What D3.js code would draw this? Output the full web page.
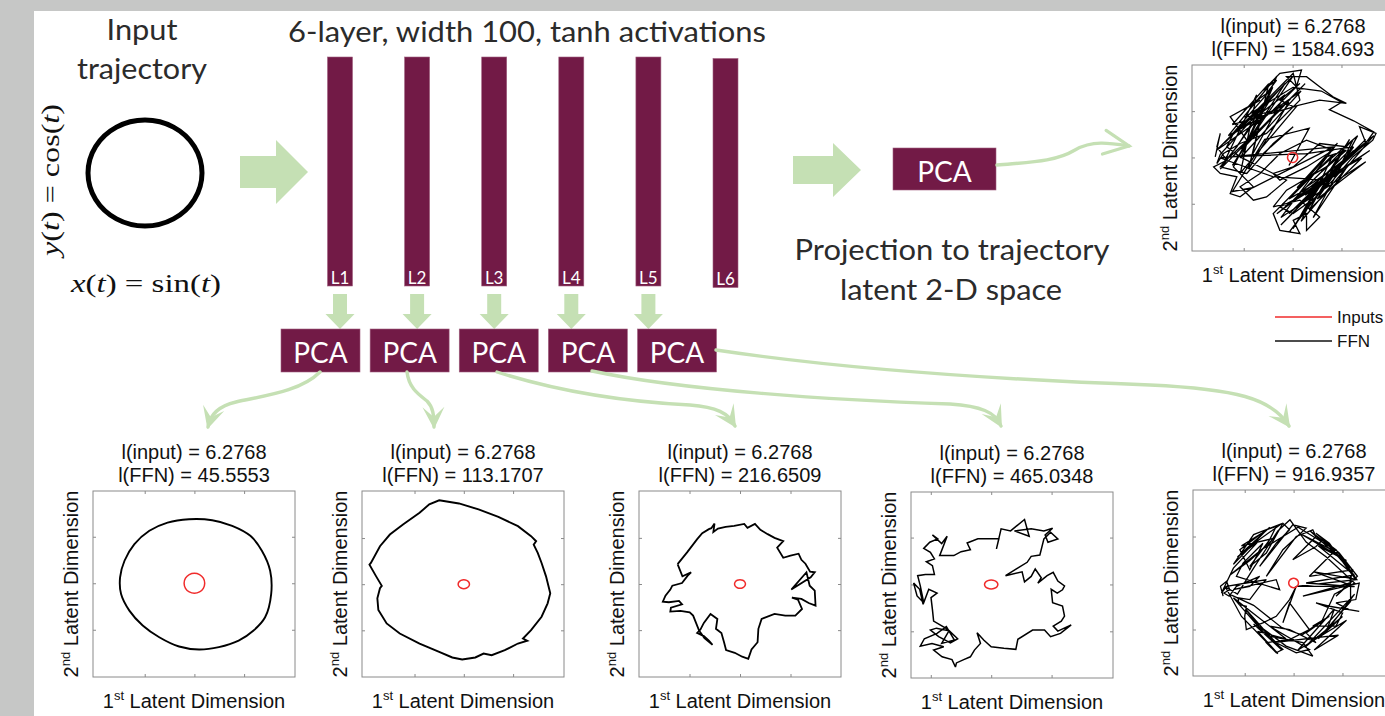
<!DOCTYPE html>
<html>
<head>
<meta charset="utf-8">
<script src="https://cdnjs.cloudflare.com/ajax/libs/d3/7.8.5/d3.min.js"></script>
<style>
  body { margin: 0; background: #c6c7c6; }
  svg { display: block; }
</style>
</head>
<body>
<svg id="fig" width="1385" height="716"></svg>
<script>
// ---- data ---------------------------------------------------------------
const layers = ["L1", "L2", "L3", "L4", "L5", "L6"];
const pcaLayers = ["L1", "L2", "L3", "L4", "L5"];
const inputLength = 6.2768;
const ffnLengths = [45.5553, 113.1707, 216.6509, 465.0348, 916.9357, 1584.693];

// unit input trajectory x = sin(t), y = cos(t), sampled every 30 degrees
const inputCircle = [[0, 1], [0.5, 0.866], [0.866, 0.5], [1, 0], [0.866, -0.5], [0.5, -0.866],
  [0, -1], [-0.5, -0.866], [-0.866, -0.5], [-1, 0], [-0.866, 0.5], [-0.5, 0.866]];

// projected input: centre and extent in each latent plane (L1..L5, L6)
const inputOrigin = [[0.2, 0.4], [0.4, -0.1], [0, 0], [-10.3, 0.3], [-0.2, 0], [-0.2, 0.3]];
const inputRadius = [[5.1, 5.4], [2.8, 2.4], [2.7, 2.3], [3.3, 2.4], [2.4, 2.5], [2.5, 2.7]];
const tickStep = [[24.6, 25], [24.4, 24.8], [25, 24.8], [29.9, 25.2], [24.2, 25], [24.2, 24.9]];

// FFN trajectories projected on the first two latent dimensions
const trajL1 = [[-2.5, 34.8], [9, 34.3], [18.9, 31.3], [27.9, 25.9], [33.6, 17.9], [37.7, 7.1], [38.2, -5.4],
  [35.2, -17.9], [29.5, -25], [22.1, -30.4], [12.3, -33.9], [2.5, -35.2], [-7.4, -33.6], [-17.2, -28.6],
  [-25.4, -22.3], [-32, -14.3], [-36.1, -5.4], [-36.6, 3.6], [-34.4, 12.5], [-29.5, 21.4], [-22.1, 28.6],
  [-13.1, 33]];

const trajL2 = [[-11.8, 45.0], [-2.0, 43.3], [7.7, 40.1], [17.5, 36.1], [27.2, 31.1], [33.7, 25.7], [36.2, 23.0],
  [35.0, 21.2], [37.0, 16.7], [38.9, 11.3], [41.1, 4.1], [43.2, -5.0], [41.9, -10.4], [38.9, -17.6],
  [33.7, -24.8], [29.7, -29.3], [31.8, -30.5], [27.2, -32.0], [20.7, -35.6], [14.2, -38.3], [10.2, -37.4],
  [6.1, -39.5], [-0.4, -40.6], [-5.3, -39.5], [-11.8, -36.5], [-21.5, -32.0], [-31.3, -26.6], [-37.8, -21.2],
  [-41.9, -14.0], [-42.4, -7.7], [-41.1, -2.3], [-40.2, -1.0], [-43.0, 4.1], [-46.3, 10.4], [-45.6, 11.3],
  [-41.1, 20.3], [-36.2, 26.6], [-29.7, 32.0], [-21.5, 38.3], [-16.7, 42.8]];

const trajL3 = [[-30.9, 10.7], [-26.2, 17.0], [-21.2, 24.1], [-18.7, 27.3], [-15.4, 29.5], [-14.2, 30.0],
  [-12.6, 32.5], [-13.2, 28.0], [-10.9, 29.8], [-7.1, 30.7], [-2.9, 31.3], [2.1, 32.3], [3.7, 30.2],
  [7.4, 32.3], [10.1, 29.1], [13.7, 26.8], [17.1, 24.8], [21.4, 23.0], [18.4, 19.5], [21.4, 14.1],
  [25.0, 15.2], [29.0, 16.3], [30.4, 13.0], [32.4, 10.9], [34.7, 6.6], [37.0, 6.3], [35.0, 3.6],
  [25.4, -3.0], [32.9, 6.3], [34.5, -0.9], [37.0, -3.6], [37.4, -11.6], [34.0, -10.2], [30.4, -8.0],
  [25.7, -7.3], [28.7, -8.4], [30.7, -13.4], [27.4, -17.0], [22.4, -17.0], [17.1, -16.1], [10.7, -18.8],
  [9.1, -24.1], [8.7, -31.3], [5.7, -35.2], [4.1, -40.2], [1.1, -39.1], [-2.6, -37.0], [-6.9, -35.5],
  [-7.9, -31.3], [-9.2, -26.3], [-11.9, -24.1], [-11.2, -18.8], [-14.6, -16.1], [-17.9, -20.9],
  [-19.6, -24.5], [-21.2, -26.3], [-17.9, -28.0], [-15.4, -30.5], [-13.6, -32.7], [-17.6, -29.1],
  [-20.2, -25.2], [-23.2, -17.0], [-24.9, -15.2], [-29.5, -14.5], [-34.5, -14.8], [-34.2, -12.7],
  [-28.7, -10.9], [-30.2, -9.1], [-35.2, -9.8], [-38.2, -9.5], [-36.9, -6.3], [-34.5, -3.0], [-33.5, -0.9],
  [-28.7, 0.5], [-25.9, 4.5], [-24.2, 6.3], [-28.5, 4.1], [-30.9, 10.7]];

const trajL4 = [[-28.0, -44.1], [-29.7, -40.1], [-34.6, -38.6], [-38.8, -35.0], [-33.8, -33.2], [-39.6, -31.4],
  [-45.4, -32.9], [-43.4, -28.9], [-37.1, -26.0], [-32.5, -22.4], [-30.5, -26.0], [-28.5, -29.6],
  [-34.8, -31.4], [-31.2, -24.6], [-37.4, -23.2], [-40.4, -24.2], [-36.3, -27.8], [-30.5, -31.1],
  [-26.9, -28.9], [-31.8, -23.9], [-38.8, -19.4], [-39.4, -13.1], [-40.1, -6.8], [-37.1, -4.4],
  [-41.2, -2.3], [-44.0, -10.4], [-45.7, -2.3], [-48.7, 1.0], [-47.0, -5.9], [-43.7, -9.5], [-45.4, -0.5],
  [-46.7, 5.0], [-42.9, 5.7], [-38.4, 5.7], [-39.4, 10.4], [-42.4, 12.5], [-38.4, 14.0], [-40.4, 17.6],
  [-43.7, 19.7], [-40.7, 23.0], [-36.8, 24.8], [-39.4, 26.9], [-34.8, 22.3], [-32.1, 26.2], [-35.8, 15.8],
  [-28.8, 15.8], [-25.2, 17.9], [-20.6, 19.0], [-22.2, 22.6], [-16.9, 24.8], [-10.7, 24.8], [-6.5, 24.8],
  [-7.7, 19.4], [-5.4, 30.2], [-0.7, 29.1], [6.2, 35.2], [8.5, 26.2], [1.2, 29.1], [9.5, 30.2],
  [15.8, 29.1], [20.1, 30.5], [16.4, 26.9], [17.8, 23.0], [22.7, 24.8], [19.1, 28.4], [15.8, 24.8],
  [13.8, 16.1], [9.5, 15.4], [7.5, 12.2], [-3.2, 5.0], [5.0, 7.1], [6.2, 1.7], [9.5, 4.6], [11.5, 8.6],
  [14.5, 3.9], [12.8, 1.0], [17.4, 5.0], [20.4, 6.8], [22.7, 2.1], [26.0, -0.5], [25.0, -2.6],
  [22.4, -4.4], [19.4, -2.3], [20.1, -9.5], [25.0, -11.3], [26.0, -16.7], [24.4, -19.4], [20.4, -22.1],
  [22.7, -24.8], [29.3, -21.4], [24.0, -26.0], [19.1, -27.8], [16.1, -24.2], [10.2, -24.2], [2.9, -29.2],
  [1.9, -34.6], [-4.0, -34.0], [-10.3, -33.2], [-14.0, -29.6], [-17.3, -25.7], [-15.6, -31.4],
  [-18.6, -35.0], [-20.6, -38.6], [-23.9, -40.1], [-27.5, -41.9]];

const trajL5 = [[-35.1, -7.1], [-36.4, -1.8], [-33.4, 0.9], [-31.8, -3.6], [-34.7, -5.4], [-32.1, -7.1],
  [-28.5, -1.8], [-17.0, 3.6], [-21.9, -1.8], [-30.1, -3.6], [-8.8, 1.8], [-7.1, -3.6], [-28.5, 3.6],
  [-25.2, 10.7], [-15.4, 21.4], [-21.9, 7.1], [-26.8, 17.9], [-13.7, 28.6], [-8.8, 30.4], [-12.1, 23.2],
  [-21.9, 8.9], [-13.7, 16.1], [-5.5, 32.1], [-2.2, 28.6], [-8.8, 21.4], [-17.0, 8.9], [-0.6, 31.3],
  [6.0, 29.5], [-5.5, 17.9], [-13.7, 3.6], [1.1, 25.0], [9.3, 28.6], [10.9, 25.0], [-0.6, 12.5],
  [10.9, 19.6], [14.2, 23.2], [20.8, 17.9], [7.6, 3.6], [29.0, 7.1], [27.3, -1.8], [1.1, -1.8],
  [30.6, 1.8], [25.7, 8.9], [17.5, 21.4], [10.9, 26.8], [22.4, 16.1], [31.4, 3.6], [20.8, -7.1],
  [27.3, 0], [4.4, -7.1], [32.3, 0], [30.6, -8.9], [20.8, -10.7], [27.3, -14.3], [32.3, -15.2],
  [17.5, -12.5], [10.9, -10.7], [24.1, -16.1], [20.8, -23.2], [9.3, -23.2], [17.5, -17.9], [6.0, -26.8],
  [10.9, -32.1], [-2.2, -25.0], [-12.1, -23.2], [7.6, -35.7], [1.1, -37.5], [-8.8, -32.1], [-17.0, -23.2],
  [-3.9, -33.9], [9.3, -39.3], [4.4, -32.1], [-12.1, -28.6], [-17.0, -25.0], [-5.5, -35.7], [-8.8, -37.5],
  [-13.7, -32.1], [-2.2, -30.4], [7.6, -25.0], [-2.2, -10.7], [-5.5, -21.4], [1.1, -1.8], [-2.2, -8.9],
  [-8.8, -17.9], [-15.4, -21.4], [-23.6, -25.0], [-24.4, -17.9], [-23.6, -12.5], [-27.2, -11.6],
  [-27.7, -8.0], [-21.9, -8.9], [-17.0, -1.8], [-13.7, 1.8], [-23.6, 0], [-33.4, -1.8], [-35.9, -5.4],
  [-30, 8], [-18, 22], [-28, 14], [-12, 30], [-24, 18], [-6, 32], [-20, 26], [-30, 10], [-14, 28],
  [-26, 20], [-10, 24], [-22, 12], [-32, 4], [-16, 18], [2, 30], [20, 18], [8, 28], [28, 8], [14, 24],
  [30, 4], [12, 20], [26, 12], [4, 26], [22, 16], [31, 2], [10, 6], [30, -2], [6, 0], [28, 4],
  [28, -10], [12, -30], [24, -18], [6, -34], [30, -6], [16, -26], [20, -14], [2, -36], [26, -20],
  [10, -36], [22, -28], [-10, -32], [-20, -22], [-6, -36], [-24, -14], [-14, -28], [-30, -8], [-4, -30],
  [-18, -26], [-8, -38], [-26, -18], [-34, -2], [-28, -6], [-20, 8], [-8, 28], [-2, 34], [6, 22],
  [16, 14], [30, 0], [20, -6], [14, -20], [4, -28], [-6, -24], [-20, -12], [-32, -6]];

const trajL6 = [[-38.5, 0.6], [-36.0, 13.2], [-37.7, 6.0], [-32.8, -1.2], [-39.3, -4.8], [-36.0, -8.3],
  [-27.8, -10.1], [-31.1, -19.1], [-26.2, -20.9], [-19.6, -15.5], [-29.5, -4.8], [-22.9, 9.6], [-31.1, 22.2],
  [-16.3, 31.1], [-24.5, 25.8], [-13.1, 34.7], [-8.1, 41.9], [-14.7, 36.5], [-6.5, 45.5], [4.2, 47.3],
  [1.7, 38.3], [-3.2, 43.7], [6.7, 43.7], [13.2, 38.3], [19.8, 32.9], [26.4, 29.4], [13.2, 31.1],
  [0.1, 27.6], [-6.5, 31.1], [3.4, 40.1], [-9.8, 25.8], [-19.6, 16.8], [-11.4, 31.1], [-22.9, 20.4],
  [-32.8, 9.6], [-16.3, 25.8], [-27.8, 6.0], [-36.0, -4.8], [-22.9, -8.3], [-9.8, 7.8], [0.1, 16.8],
  [-14.7, 2.4], [-31.1, 0.6], [6.7, 2.4], [29.6, 6.0], [16.5, -8.3], [6.7, -15.5], [19.8, -1.2],
  [29.6, 9.6], [23.1, -4.8], [13.2, -15.5], [6.7, -22.7], [16.5, -11.9], [28.0, 0.6], [36.2, 7.8],
  [32.9, 16.8], [41.1, 13.2], [39.5, 9.6], [29.6, 0.6], [19.8, -11.9], [11.6, -20.9], [0.1, -29.9],
  [-6.5, -26.3], [0.1, -22.7], [13.2, -8.3], [26.4, 4.2], [16.5, 0.6], [3.4, -15.5], [-3.2, -22.7],
  [-9.8, -29.9], [-6.5, -38.9], [3.4, -40.7], [0.1, -33.5], [6.7, -29.9], [6.7, -38.9], [13.2, -31.7],
  [3.4, -22.7], [-9.8, -26.3], [-3.2, -17.3], [16.5, -4.8], [26.4, 6.0], [13.2, 7.8], [0.1, -4.8],
  [-9.8, -8.3], [-6.5, -11.9], [6.7, -4.8], [19.8, 4.2], [6.7, 9.6], [-6.5, 2.4], [-16.3, -8.3],
  [-26.2, -15.5], [-19.6, -22.7], [-13.1, -20.9], [-3.2, -11.9], [-26.2, 0.6], [-32.8, 6.0], [-29.5, 13.2],
  [-19.6, 24.0], [-6.5, 38.3], [0.1, 45.5], [3.4, 31.1], [-13.1, 13.2], [-26.2, 7.8], [-34.4, 2.4],
  [-37.7, -3.0], [-36, 2], [-4, 40], [-30, -4], [0, 44], [-34, 8], [-10, 38], [-26, 0], [4, 36],
  [-38, 4], [-14, 30], [-22, -6], [-2, 30], [-32, 12], [-8, 44], [-24, 6], [6, 40], [-36, -6],
  [-16, 24], [-28, 14], [-4, 34], [-20, 2], [-12, 40], [-30, 18], [2, 28], [-26, -8], [-18, 34],
  [-34, -2], [-6, 26], [-24, 22], [0, 38], [14, 36], [24, 30], [18, 26], [30, 20], [40, 14], [36, 8],
  [-2, -30], [30, 4], [-6, -36], [36, 10], [2, -26], [24, -4], [-8, -30], [40, 12], [4, -34], [20, 2],
  [-2, -22], [34, 0], [8, -28], [28, 10], [0, -38], [16, -8], [6, -20], [38, 4], [-4, -26], [26, -6],
  [10, -32], [32, 12], [2, -16], [22, 8], [-6, -32], [36, -2], [12, -22], [30, 6], [-2, -40], [18, -12],
  [-10, -10], [-36, 0], [20, 6], [-20, -16], [-30, -18], [-14, 10], [8, 16], [-2, -4]];

const trajectories = [trajL1, trajL2, trajL3, trajL4, trajL5, trajL6];

// ---- styling ------------------------------------------------------------
const MAROON = "#721a46";
const GREEN = "#c5e0b4";
const TEXT = "#2b2b2b";
const UI_FONT = "Lato, 'Open Sans', sans-serif";
const UI_WEIGHT = 400;
const PLOT_FONT = "'Liberation Sans', Arial, Helvetica, sans-serif";

const svg = d3.select("#fig");

// page background with white slide area
svg.append("rect").attr("width", 1385).attr("height", 716).attr("fill", "#c6c7c6");
svg.append("rect").attr("x", 34).attr("y", 11).attr("width", 1385 - 34).attr("height", 716 - 11).attr("fill", "#ffffff");

// ---- helpers ------------------------------------------------------------
function blockArrowRight(g, x0, x1, xh, cy, shaftHalf, headHalf) {
  const p = d3.path();
  p.moveTo(x0, cy - shaftHalf); p.lineTo(xh, cy - shaftHalf); p.lineTo(xh, cy - headHalf);
  p.lineTo(x1, cy); p.lineTo(xh, cy + headHalf); p.lineTo(xh, cy + shaftHalf);
  p.lineTo(x0, cy + shaftHalf); p.closePath();
  g.append("path").attr("d", p.toString()).attr("fill", GREEN);
}
function blockArrowDown(g, cx, y0, yh, y1, shaftHalf, headHalf) {
  const p = d3.path();
  p.moveTo(cx - shaftHalf, y0); p.lineTo(cx + shaftHalf, y0); p.lineTo(cx + shaftHalf, yh);
  p.lineTo(cx + headHalf, yh); p.lineTo(cx, y1); p.lineTo(cx - headHalf, yh);
  p.lineTo(cx - shaftHalf, yh); p.closePath();
  g.append("path").attr("d", p.toString()).attr("fill", GREEN);
}
function curvedArrow(g, d, head) {
  const path = g.append("path").attr("d", d).attr("fill", "none")
    .attr("stroke", GREEN).attr("stroke-width", 3.4).attr("stroke-linecap", "round");
  const node = path.node();
  const L = node.getTotalLength();
  const p1 = node.getPointAtLength(L);
  const p0 = node.getPointAtLength(L - 8);
  let dx = p1.x - p0.x, dy = p1.y - p0.y;
  const n = Math.hypot(dx, dy); dx /= n; dy /= n;
  const nx = -dy, ny = dx;
  if (head === "open") {
    const len = 25, w = 12;
    const a = [p1.x - dx * len + nx * w, p1.y - dy * len + ny * w];
    const b = [p1.x - dx * len - nx * w, p1.y - dy * len - ny * w];
    g.append("path").attr("d", `M${a[0]},${a[1]}L${p1.x},${p1.y}L${b[0]},${b[1]}`)
      .attr("fill", "none").attr("stroke", GREEN).attr("stroke-width", 3.2)
      .attr("stroke-linejoin", "miter").attr("stroke-linecap", "round");
  } else {
    const len = 22, w = 11;
    const tip = [p1.x + dx * 2, p1.y + dy * 2];
    const b1 = [tip[0] - dx * len + nx * w, tip[1] - dy * len + ny * w];
    const b2 = [tip[0] - dx * len - nx * w, tip[1] - dy * len - ny * w];
    const notch = [tip[0] - dx * len * 0.55, tip[1] - dy * len * 0.55];
    g.append("path").attr("d", `M${tip}L${b1}L${notch}L${b2}Z`).attr("fill", GREEN);
  }
}
function uiText(g, x, y, str, opts = {}) {
  const t = g.append("text").attr("x", x).attr("y", y).attr("text-anchor", opts.anchor || "middle")
    .attr("font-family", UI_FONT).attr("font-weight", opts.weight || UI_WEIGHT)
    .attr("font-size", opts.size || 29).attr("fill", opts.fill || TEXT).text(str);
  if (opts.len) t.attr("textLength", opts.len).attr("lengthAdjust", "spacingAndGlyphs");
  return t;
}

// ---- left: input trajectory -------------------------------------------
const gIn = svg.append("g");
uiText(gIn, 142, 40, "Input", { len: 71 });
uiText(gIn, 142, 79, "trajectory", { len: 130 });

const cx0 = d3.scaleLinear().domain([-1, 1]).range([88, 202]);
const cy0 = d3.scaleLinear().domain([-1, 1]).range([226, 120]);
gIn.append("path").datum(inputCircle)
  .attr("d", d3.line().x(d => cx0(d[0])).y(d => cy0(d[1])).curve(d3.curveCatmullRomClosed))
  .attr("fill", "none").attr("stroke", "#000").attr("stroke-width", 5);

function mathText(g, parts, attrs) {
  const t = g.append("text").attr("font-family", "'Liberation Serif', 'DejaVu Serif', serif")
    .attr("font-size", 25).attr("fill", "#111");
  Object.entries(attrs).forEach(([k, v]) => t.attr(k, v));
  parts.forEach(([s, it]) => t.append("tspan").attr("font-style", it ? "italic" : "normal").text(s));
  return t;
}
mathText(gIn, [["x", 1], ["(", 0], ["t", 1], [") = sin(", 0], ["t", 1], [")", 0]],
  { x: 146, y: 292, "text-anchor": "middle", textLength: 150, lengthAdjust: "spacingAndGlyphs" });
mathText(gIn, [["y", 1], ["(", 0], ["t", 1], [") = cos(", 0], ["t", 1], [")", 0]],
  { transform: "translate(59,180) rotate(-90)", "text-anchor": "middle", textLength: 152, lengthAdjust: "spacingAndGlyphs" });

blockArrowRight(svg, 240, 308, 276, 172, 16, 32);

// ---- network layers ---------------------------------------------------
uiText(svg, 288, 42, "6-layer, width 100, tanh activations", { anchor: "start", len: 478 });

const layerX = d3.scalePoint().domain(layers).range([340, 725.5]);
const barW = 25;
const gBars = svg.append("g");
gBars.selectAll("rect").data(layers).join("rect")
  .attr("x", d => layerX(d) - barW / 2).attr("y", (d, i) => i === 5 ? 58.5 : 57)
  .attr("width", barW).attr("height", 229)
  .attr("fill", MAROON).attr("stroke", "#a0607f").attr("stroke-width", 0.6);
gBars.selectAll("text").data(layers).join("text")
  .attr("x", d => layerX(d)).attr("y", (d, i) => i === 5 ? 285 : 283.5).attr("text-anchor", "middle")
  .attr("font-family", UI_FONT).attr("font-size", 17).attr("fill", "#fff").text(d => d);

pcaLayers.forEach(l => blockArrowDown(svg, layerX(l), 294, 314, 329, 7, 14.5));

// PCA boxes under layers L1..L5
const pcaX = d3.scalePoint().domain(pcaLayers).range([320.5, 677]);
const pcaW = 79, pcaH = 43;
const gPca = svg.append("g");

// curved connectors from PCA boxes to the panels
curvedArrow(svg, "M320,372 C300,392 262,396 236,402 C219,406 210,414 208,427", "filled");
curvedArrow(svg, "M407,372 C409,388 418,394 427,401 C433,407 434,415 434,427", "filled");
curvedArrow(svg, "M497,372 C560,392 630,402 690,405 C716,407 729,413 735,426", "filled");
curvedArrow(svg, "M592,371 C680,390 830,400 950,404 C980,406 996,412 1001,426", "filled");
curvedArrow(svg, "M716,350 C850,370 1010,380 1150,385 C1235,389 1272,398 1289,426", "filled");

gPca.selectAll("rect").data(pcaLayers).join("rect")
  .attr("x", d => pcaX(d) - pcaW / 2).attr("y", 329).attr("width", pcaW).attr("height", pcaH)
  .attr("fill", MAROON).attr("stroke", "#a0607f").attr("stroke-width", 0.6);
gPca.selectAll("text").data(pcaLayers).join("text")
  .attr("x", d => pcaX(d)).attr("y", 363).attr("text-anchor", "middle")
  .attr("font-family", UI_FONT).attr("font-size", 28).attr("fill", "#fff").text("PCA");

// ---- output layer projection ------------------------------------------
blockArrowRight(svg, 793, 861, 833, 170, 14, 27);
svg.append("rect").attr("x", 893).attr("y", 148).attr("width", 103).attr("height", 42)
  .attr("fill", MAROON).attr("stroke", "#a0607f").attr("stroke-width", 0.6);
svg.append("text").attr("x", 944.5).attr("y", 182).attr("text-anchor", "middle")
  .attr("font-family", UI_FONT).attr("font-size", 28).attr("fill", "#fff").text("PCA");
curvedArrow(svg, "M997,165 C1030,162 1055,162 1075,150 C1092,140 1110,143 1129,146", "open");

uiText(svg, 952, 260, "Projection to trajectory", { len: 315 });
uiText(svg, 951, 300, "latent 2-D space", { len: 222 });

// ---- latent-space panels ------------------------------------------------
const panelLayout = [
  { x: 93, y: 491 }, { x: 362, y: 491 }, { x: 639, y: 491 }, { x: 911, y: 492 }, { x: 1193, y: 490 },
  { x: 1192, y: 65 }
];
const PW = 202, PH = 186;
const curves = [d3.curveCatmullRomClosed, d3.curveLinearClosed, d3.curveLinear,
  d3.curveLinearClosed, d3.curveLinear, d3.curveLinear];
const lineWidths = [1.9, 1.9, 1.8, 1.5, 1.3, 1.3];

trajectories.forEach((traj, i) => {
  const L = panelLayout[i];
  const g = svg.append("g");
  const x = d3.scaleLinear().domain([-50, 50]).range([L.x, L.x + PW]);
  const y = d3.scaleLinear().domain([-50, 50]).range([L.y + PH, L.y]);
  const [ox, oy] = inputOrigin[i];
  const [sx, sy] = tickStep[i];
  const xt = [ox - sx, ox, ox + sx], yt = [oy - sy, oy, oy + sy];

  // frame and inward ticks on all four sides
  g.append("rect").attr("x", L.x).attr("y", L.y).attr("width", PW).attr("height", PH)
    .attr("fill", "#fff").attr("stroke", "#8a8a8a").attr("stroke-width", 1);
  const tick = (ax, tr) => g.append("g").attr("transform", tr)
    .call(ax.tickSize(-3).tickFormat(""))
    .call(s => { s.select(".domain").remove(); s.selectAll("line").attr("stroke", "#8a8a8a"); });
  tick(d3.axisBottom(x).tickValues(xt), `translate(0,${L.y + PH})`);
  tick(d3.axisTop(x).tickValues(xt), `translate(0,${L.y})`);
  tick(d3.axisLeft(y).tickValues(yt), `translate(${L.x},0)`);
  tick(d3.axisRight(y).tickValues(yt), `translate(${L.x + PW},0)`);

  // FFN trajectory
  g.append("path").datum(traj)
    .attr("d", d3.line().x(d => x(d[0])).y(d => y(d[1])).curve(curves[i]))
    .attr("fill", "none").attr("stroke", "#000").attr("stroke-width", lineWidths[i])
    .attr("stroke-linejoin", "miter").attr("stroke-miterlimit", 3);

  // input trajectory in the same plane
  const [rx, ry] = inputRadius[i];
  g.append("path").datum(inputCircle)
    .attr("d", d3.line().x(d => x(ox + d[0] * rx)).y(d => y(oy + d[1] * ry)).curve(d3.curveCatmullRomClosed))
    .attr("fill", "none").attr("stroke", "#f02b2b").attr("stroke-width", 1.5);

  // titles
  const cxp = L.x + PW / 2;
  g.append("text").attr("x", cxp).attr("y", L.y - 32).attr("text-anchor", "middle")
    .attr("font-family", PLOT_FONT).attr("font-size", 20).attr("fill", "#111")
    .text(`l(input) = ${inputLength}`);
  g.append("text").attr("x", cxp).attr("y", L.y - 9).attr("text-anchor", "middle")
    .attr("font-family", PLOT_FONT).attr("font-size", 20).attr("fill", "#111")
    .text(`l(FFN) = ${ffnLengths[i]}`);

  // axis labels
  const axisLabel = (t, first, sup) => {
    t.attr("font-family", PLOT_FONT).attr("font-size", 20).attr("fill", "#111").attr("text-anchor", "middle");
    t.append("tspan").text(first);
    t.append("tspan").attr("font-size", 13).attr("dy", -8).text(sup);
    t.append("tspan").attr("dy", 8).text(" Latent Dimension");
  };
  axisLabel(g.append("text").attr("x", cxp).attr("y", L.y + PH + 31), "1", "st");
  axisLabel(g.append("text").attr("transform", `translate(${L.x - 15},${L.y + PH / 2}) rotate(-90)`), "2", "nd");
});

// legend for the output-layer panel
const legend = [{ name: "Inputs", color: "#f02b2b", y: 317 }, { name: "FFN", color: "#111", y: 341 }];
const gLeg = svg.append("g");
gLeg.selectAll("line").data(legend).join("line")
  .attr("x1", 1275).attr("x2", 1332).attr("y1", d => d.y).attr("y2", d => d.y)
  .attr("stroke", d => d.color).attr("stroke-width", 1.6);
gLeg.selectAll("text").data(legend).join("text")
  .attr("x", 1337).attr("y", d => d.y + 6).attr("font-family", PLOT_FONT).attr("font-size", 17)
  .attr("fill", "#111").text(d => d.name);
</script>
</body>
</html>
